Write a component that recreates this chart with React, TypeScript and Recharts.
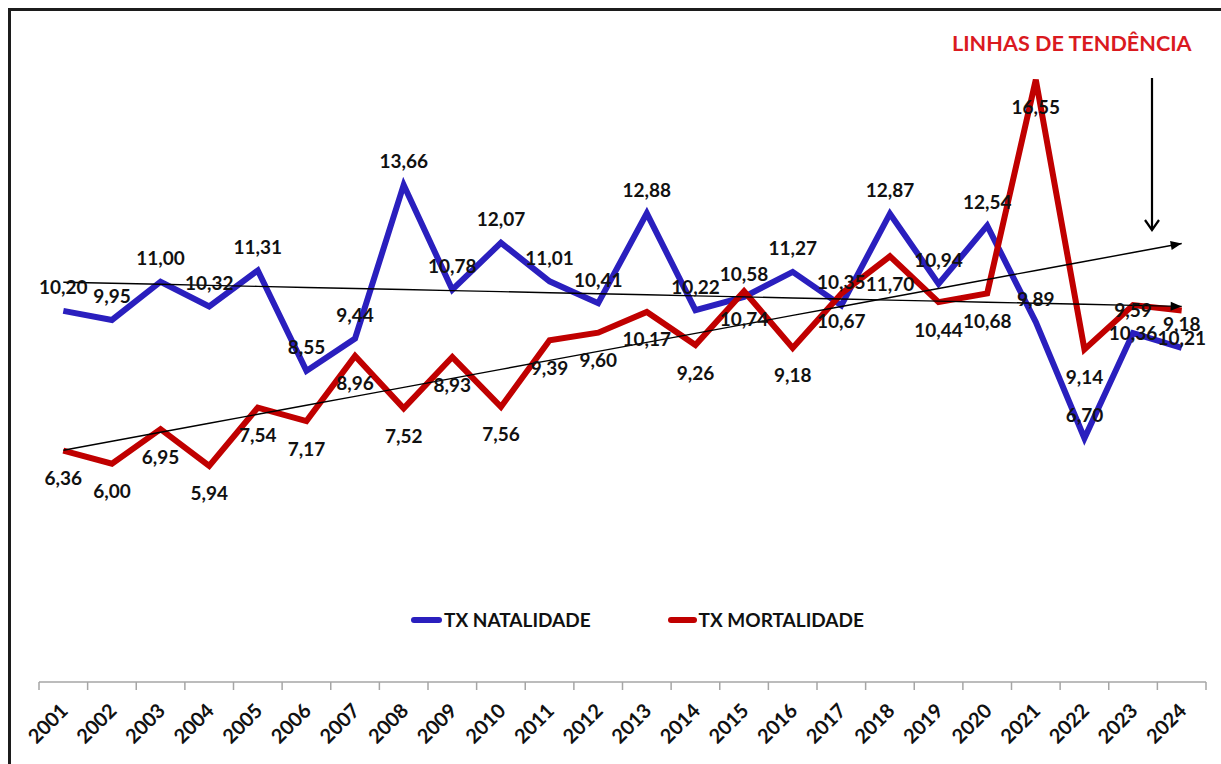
import React from "react"
import { LabelList, Legend, Line, LineChart, XAxis, YAxis } from "recharts"

const years = [
  "2001", "2002", "2003", "2004", "2005", "2006", "2007", "2008",
  "2009", "2010", "2011", "2012", "2013", "2014", "2015", "2016",
  "2017", "2018", "2019", "2020", "2021", "2022", "2023", "2024",
]

const natalidade = [
  10.2, 9.95, 11.0, 10.32, 11.31, 8.55, 9.44, 13.66, 10.78, 12.07, 11.01, 10.41,
  12.88, 10.22, 10.58, 11.27, 10.35, 12.87, 10.94, 12.54, 9.89, 6.7, 9.59, 9.18,
]

const mortalidade = [
  6.36, 6.0, 6.95, 5.94, 7.54, 7.17, 8.96, 7.52, 8.93, 7.56, 9.39, 9.6,
  10.17, 9.26, 10.74, 9.18, 10.67, 11.7, 10.44, 10.68, 16.55, 9.14, 10.36, 10.21,
]

const BLUE = "#2A1FBE"
const RED = "#C00000"
const FONT = "Lato, 'Open Sans', sans-serif"

const CHART_W = 1210
const MARGIN = { top: 16, right: 15, left: 28, bottom: 12 }
// half of one category slot, so points sit in the middle like excel
const HALF = (CHART_W - MARGIN.left - MARGIN.right) / years.length / 2

// least squares trend, like excel's linear trendline
function trend(values: number[]) {
  const n = values.length
  const xm = (n - 1) / 2
  const ym = values.reduce((a, b) => a + b, 0) / n
  let sxy = 0
  let sxx = 0
  values.forEach((v, i) => {
    sxy += (i - xm) * (v - ym)
    sxx += (i - xm) * (i - xm)
  })
  const slope = sxy / sxx
  return values.map((_, i) => ym + slope * (i - xm))
}

const natTrend = trend(natalidade)
const morTrend = trend(mortalidade)

const chartData = years.map((year, i) => ({
  year,
  nat: natalidade[i],
  mor: mortalidade[i],
  natT: natTrend[i],
  morT: morTrend[i],
}))

const fmt = (v: number) => v.toFixed(2).replace(".", ",")

const valueLabel = (dy: number) => (props: any) => {
  const { x, y, value, index } = props
  return (
    <text
      key={`l-${index}`}
      x={x}
      y={y + dy}
      textAnchor="middle"
      dominantBaseline="central"
      fontFamily={FONT}
      fontWeight={700}
      fontSize={19}
      fill="#111"
    >
      {fmt(Number(value))}
    </text>
  )
}

function arrowDot(lastIndex: number) {
  let start: [number, number] | null = null
  return (p: any) => {
    const { cx, cy, index } = p
    if (index === 0) start = [cx, cy]
    if (index !== lastIndex || !start) return <g key={`d-${index}`} />
    const a = (Math.atan2(cy - start[1], cx - start[0]) * 180) / Math.PI
    return (
      <path
        key={`d-${index}`}
        d="M0,0 L-11,-4.5 L-11,4.5 Z"
        transform={`translate(${cx},${cy}) rotate(${a})`}
        fill="#000"
      />
    )
  }
}

const YearTick = (props: any) => {
  const { x, y, payload, index, visibleTicksCount } = props
  return (
    <g>
      <line x1={x - HALF} x2={x - HALF} y1={y} y2={y + 8} stroke="#a6a6a6" strokeWidth={1.5} />
      {index === visibleTicksCount - 1 && (
        <line x1={x + HALF} x2={x + HALF} y1={y} y2={y + 8} stroke="#a6a6a6" strokeWidth={1.5} />
      )}
      <text
        transform={`translate(${x + 6},${y + 30}) rotate(-45)`}
        textAnchor="end"
        fontFamily={FONT}
        fontWeight={700}
        fontSize={20}
        fill="#111"
      >
        {payload.value}
      </text>
    </g>
  )
}

const LegendBox = () => (
  <div
    style={{
      display: "flex",
      alignItems: "center",
      fontFamily: FONT,
      fontWeight: 700,
      fontSize: 19,
      color: "#111",
      whiteSpace: "nowrap",
    }}
  >
    <span style={{ width: 31, height: 6, borderRadius: 3, background: BLUE, marginRight: 2 }} />
    <span>TX NATALIDADE</span>
    <span style={{ width: 29, height: 6, borderRadius: 3, background: RED, marginLeft: 77, marginRight: 2 }} />
    <span>TX MORTALIDADE</span>
  </div>
)

export default function App() {
  return (
    <div style={{ position: "relative", width: 1221, height: 764, overflow: "hidden", background: "#fff" }}>
      <style>{"body{margin:0;overflow:hidden}"}</style>
      <div
        style={{
          position: "absolute",
          left: 8,
          top: 8,
          width: 1230,
          height: 770,
          borderLeft: "3px solid #1c1c1c",
          borderTop: "3px solid #1c1c1c",
        }}
      />
      <div style={{ position: "absolute", left: 11, top: 11 }}>
        <LineChart width={CHART_W} height={753} data={chartData} margin={MARGIN}>
          <XAxis
            dataKey="year"
            interval={0}
            height={70}
            padding={{ left: HALF, right: HALF }}
            tickSize={0}
            tickMargin={0}
            tickLine={false}
            axisLine={{ stroke: "#a6a6a6", strokeWidth: 1.5 }}
            tick={<YearTick />}
          />
          <YAxis hide domain={[0, 18]} />
          <Legend
            verticalAlign="middle"
            align="center"
            layout="horizontal"
            wrapperStyle={{ left: 400, top: 597, width: "auto" }}
            content={() => <LegendBox />}
          />
          <Line
            type="linear"
            dataKey="nat"
            stroke={BLUE}
            strokeWidth={6}
            dot={false}
            isAnimationActive={false}
          >
            <LabelList dataKey="nat" content={valueLabel(-24)} />
          </Line>
          <Line
            type="linear"
            dataKey="mor"
            stroke={RED}
            strokeWidth={6}
            dot={false}
            isAnimationActive={false}
          >
            <LabelList dataKey="mor" content={valueLabel(27)} />
          </Line>
          <Line
            type="linear"
            dataKey="natT"
            stroke="#000"
            strokeWidth={1.4}
            dot={arrowDot(years.length - 1)}
            activeDot={false}
            isAnimationActive={false}
          />
          <Line
            type="linear"
            dataKey="morT"
            stroke="#000"
            strokeWidth={1.4}
            dot={arrowDot(years.length - 1)}
            activeDot={false}
            isAnimationActive={false}
          />
        </LineChart>
      </div>
      <div
        style={{
          position: "absolute",
          left: 952,
          top: 30,
          fontFamily: FONT,
          fontWeight: 700,
          fontSize: 21.6,
          color: "#DA1A1F",
          whiteSpace: "nowrap",
        }}
      >
        LINHAS DE TENDÊNCIA
      </div>
      <svg style={{ position: "absolute", left: 0, top: 0 }} width={1221} height={764} pointerEvents="none">
        <line x1={1152} y1={78} x2={1152} y2={230} stroke="#000" strokeWidth={2.2} />
        <polyline points="1145,220 1152,230 1159,220" fill="none" stroke="#000" strokeWidth={2.2} />
      </svg>
    </div>
  )
}
